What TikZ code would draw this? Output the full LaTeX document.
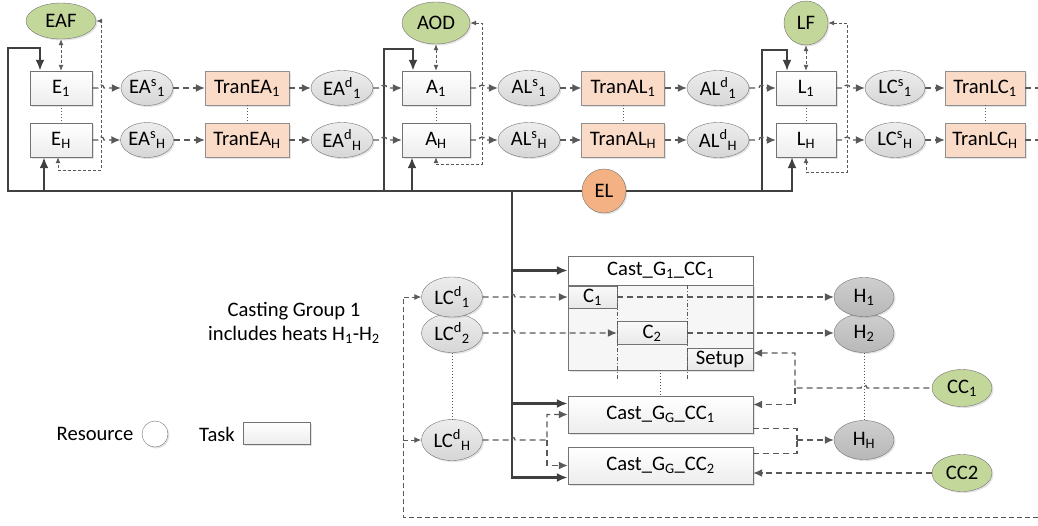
\documentclass[tikz,border=0pt]{standalone}
\usepackage{fontspec}
\setmainfont{Carlito}
\usetikzlibrary{arrows.meta,shapes.geometric,shadows}
\definecolor{boxgray}{HTML}{737373}
\definecolor{linegray}{HTML}{595959}
\definecolor{darkline}{HTML}{404040}
\definecolor{tranfill}{HTML}{FADBC8}
\definecolor{equipgreen}{HTML}{C4D79B}
\definecolor{elorange}{HTML}{F4B183}
\newcommand{\linehop}[2]{-- (#1-3,#2) arc[start angle=180,end angle=360,radius=3]}

\begin{document}
\begin{tikzpicture}[x=1pt, y=-1pt, >={Latex[length=9pt,width=8pt]},
    font=\fontsize{20.6}{24}\selectfont,
    softshadow/.style={drop shadow={opacity=0.22,shadow xshift=1.5pt,shadow yshift=-1.5pt}},
    task/.style={draw=boxgray, top color=white, bottom color=gray!14, minimum height=34pt, inner sep=1pt, softshadow},
    tran/.style={draw=boxgray!80, fill=tranfill, minimum height=34pt, inner sep=1pt, softshadow},
    res/.style={ellipse, draw=boxgray, top color=gray!14, bottom color=gray!32, minimum height=35pt, inner sep=0pt, softshadow},
    equip/.style={ellipse, draw=boxgray, fill=equipgreen, inner sep=0pt, softshadow},
    heat/.style={ellipse, draw=boxgray, top color=gray!38, bottom color=gray!56, minimum width=60pt, minimum height=39pt, inner sep=0pt, softshadow},
    slot/.style={draw=boxgray, top color=gray!4, bottom color=gray!18, minimum height=22pt, inner sep=0pt},
    dline/.style={draw=linegray, line width=1.3pt, dash pattern=on 6pt off 4pt, ->},
    fbline/.style={draw=linegray, line width=0.9pt, dash pattern=on 3pt off 2pt, >={Latex[length=6pt,width=5pt]}},
    loopline/.style={draw=linegray, line width=1pt, dash pattern=on 5pt off 3pt, >={Latex[length=7pt,width=6pt]}},
    dotline/.style={draw=linegray, line width=1pt, dash pattern=on 1pt off 2pt},
    ddline/.style={draw=linegray, line width=0.8pt, dash pattern=on 4pt off 2pt on 1pt off 2pt},
    elline/.style={draw=darkline, line width=2.2pt, -{Latex[length=11pt,width=9pt]}}]
\useasboundingbox (0,0) rectangle (1038,525);

% units
\node[equip, minimum width=70pt, minimum height=36pt] (EAF) at (61,21) {EAF};
\node[equip, minimum width=68pt, minimum height=42pt] (AOD) at (436,23) {AOD};
\node[equip, circle, minimum size=44pt] (LF) at (806,23) {LF};

% stage rows
\foreach \r/\y in {1/88,H/140}{
  \node[task, minimum width=62pt] (E\r) at (61,\y) {E\textsubscript{\r}};
  \node[res, minimum width=52pt] (EAs\r) at (147,\y) {EA\textsuperscript{s}\textsubscript{\r}};
  \node[tran, minimum width=84pt] (TranEA\r) at (247,\y) {TranEA\textsubscript{\r}};
  \node[res, minimum width=62pt] (EAd\r) at (342,\y) {EA\textsuperscript{d}\textsubscript{\r}};
  \node[task, minimum width=68pt] (A\r) at (436,\y) {A\textsubscript{\r}};
  \node[res, minimum width=62pt] (ALs\r) at (529,\y) {AL\textsuperscript{s}\textsubscript{\r}};
  \node[tran, minimum width=83pt] (TranAL\r) at (623,\y) {TranAL\textsubscript{\r}};
  \node[res, minimum width=62pt] (ALd\r) at (718,\y) {AL\textsuperscript{d}\textsubscript{\r}};
  \node[task, minimum width=60pt] (L\r) at (806,\y) {L\textsubscript{\r}};
  \node[res, minimum width=60pt] (LCs\r) at (895,\y) {LC\textsuperscript{s}\textsubscript{\r}};
  \node[tran, minimum width=80pt] (TranLC\r) at (985,\y) {TranLC\textsubscript{\r}};
}
\node[circle, draw=boxgray, fill=elorange, minimum size=44pt, inner sep=0pt, softshadow] (EL) at (604,191) {EL};

% casting
\node[res, minimum width=61pt, minimum height=39pt] (LCd2) at (452,333) {LC\textsuperscript{d}\textsubscript{2}};
\node[res, minimum width=61pt, minimum height=40pt] (LCd1) at (452,297) {LC\textsuperscript{d}\textsubscript{1}};
\node[res, minimum width=61pt, minimum height=41pt] (LCdH) at (452,440) {LC\textsuperscript{d}\textsubscript{H}};

\node[draw=boxgray, fill=gray!7, minimum width=185pt, minimum height=85pt, softshadow] (CastBody) at (660.5,327.5) {};
\node[draw=boxgray, fill=white, minimum width=185pt, minimum height=29pt, inner sep=0pt] (CastG1) at (660.5,270.5) {Cast\_G\textsubscript{1}\_CC\textsubscript{1}};
\node[slot, minimum width=49pt] (C1) at (592.5,297) {C\textsubscript{1}};
\node[slot, minimum width=70pt, minimum height=23pt] (C2) at (652,333) {C\textsubscript{2}};
\node[slot, minimum width=66pt] (Setup) at (720,359) {Setup};
\draw[ddline] (C1.east |- CastG1.south) -- ++(0,95);
\draw[ddline] (C2.east |- CastG1.south) -- ++(0,95);

\node[task, minimum width=185pt, minimum height=37pt] (CastGG1) at (660.5,414.5) {Cast\_G\textsubscript{G}\_CC\textsubscript{1}};
\node[task, minimum width=185pt, minimum height=37pt] (CastGG2) at (660.5,465.5) {Cast\_G\textsubscript{G}\_CC\textsubscript{2}};

\node[heat] (H2) at (864,333) {H\textsubscript{2}};
\node[heat] (H1) at (864,297) {H\textsubscript{1}};
\node[heat] (HH) at (864,440) {H\textsubscript{H}};
\node[equip, minimum width=60pt, minimum height=37pt] (CC1) at (962,388) {CC\textsubscript{1}};
\node[equip, minimum width=60pt, minimum height=37pt] (CC2) at (962,473) {CC2};

% notes and legend
\node[align=center] (note) at (294,323) {Casting Group 1\\includes heats H\textsubscript{1}-H\textsubscript{2}};
\node (restext) at (95,434) {Resource};
\node[circle, draw=boxgray, fill=white, minimum size=26pt, softshadow] (reskey) at (155,434) {};
\node (tasktext) at (217,434) {Task};
\node[task, minimum width=67pt, minimum height=22pt] (taskkey) at (276.5,433) {};

% electricity lines
\draw[elline] (EL.west) -| (8,48) -| ([xshift=-21pt]E1.north);
\draw[elline] (44,191) -- ([xshift=-17pt]EH.south);
\draw[elline] (384,191) -- (384,49) -| ([xshift=-23pt]A1.north);
\draw[elline] (412,191) -- ([xshift=-24pt]AH.south);
\draw[elline, line width=1.7pt] (EL.east) -| (762,50) -| ([xshift=-19pt]L1.north);
\draw[elline, line width=1.7pt] (762,191) -| ([xshift=-14pt]LH.south);
\draw[elline] (512,191) |- ([yshift=-12pt]CastGG2.west);
\draw[elline] (512,270.5) -- (CastG1.west);
\draw[elline] (512,403.5) -- ([yshift=11pt]CastGG1.west);

% unit loops
\draw[fbline,<->] (EAF) -- (E1);
\draw[fbline,<->] (AOD) -- (A1);
\draw[fbline,<->] (LF) -- (L1);
\draw[fbline,<->] (EAF.east) -| (101,170) -| ([xshift=-3pt]EH.south);
\draw[fbline,<->] (AOD.east) -| (482,164) -| (AH.south);
\draw[fbline,<->] (LF.east) -| (847,172) -| (LH.south);

% heat flow
\foreach \r/\y in {1/88,H/140}{
  \draw[dline] (E\r.east) \linehop{101}{\y} -- (EAs\r.west);
  \draw[dline] (EAs\r) -- (TranEA\r);
  \draw[dline] (TranEA\r) -- (EAd\r);
  \draw[dline] (EAd\r.east) \linehop{384}{\y} -- (A\r.west);
  \draw[dline] (A\r.east) \linehop{482}{\y} -- (ALs\r.west);
  \draw[dline] (ALs\r) -- (TranAL\r);
  \draw[dline] (TranAL\r) -- (ALd\r);
  \draw[dline] (ALd\r.east) \linehop{762}{\y} -- (L\r.west);
  \draw[dline] (L\r.east) \linehop{847}{\y} -- (LCs\r.west);
  \draw[dline] (LCs\r) -- (TranLC\r);
  \draw[dline,-] (TranLC\r.east) -- (1038,\y);
}
\foreach \a/\b in {E1/EH, TranEA1/TranEAH, A1/AH, TranAL1/TranALH, L1/LH, TranLC1/TranLCH, LCd2/LCdH, H2/HH, CastBody/CastGG1}
  \draw[dotline] (\a.south) -- (\b.north);

\draw[loopline,->] (1038,517) -| (403,297) -- (LCd1.west);
\draw[loopline,->] (403,440) -- (LCdH.west);
\draw[dline] (LCd1.east) \linehop{512}{297} -- (C1.west);
\draw[dline] (LCd2.east) \linehop{512}{333} -- (C2.west);
\draw[dline] (C1.east) -- (H1.west);
\draw[dline] (C2.east) -- (H2.west);
\draw[dline] (LCdH.east) \linehop{512}{440} -- (547,440) |- (CastGG1.west);
\draw[dline] (547,440) |- (CastGG2.west);
\draw[dline,<-] ([yshift=6pt]Setup.east) -| (795,388) \linehop{864}{388} -- (CC1.west);
\draw[dline] (795,388) |- ([yshift=10pt]CastGG1.east);
\draw[dline,-] ([yshift=-14pt]CastGG1.east) -| (797,440);
\draw[dline,-] ([yshift=12pt]CastGG2.east) -| (797,440);
\draw[dline] (797,440) -- (HH.west);
\draw[dline] (CC2.west) -- (CastGG2.east |- CC2.west);
\end{tikzpicture}
\end{document}
